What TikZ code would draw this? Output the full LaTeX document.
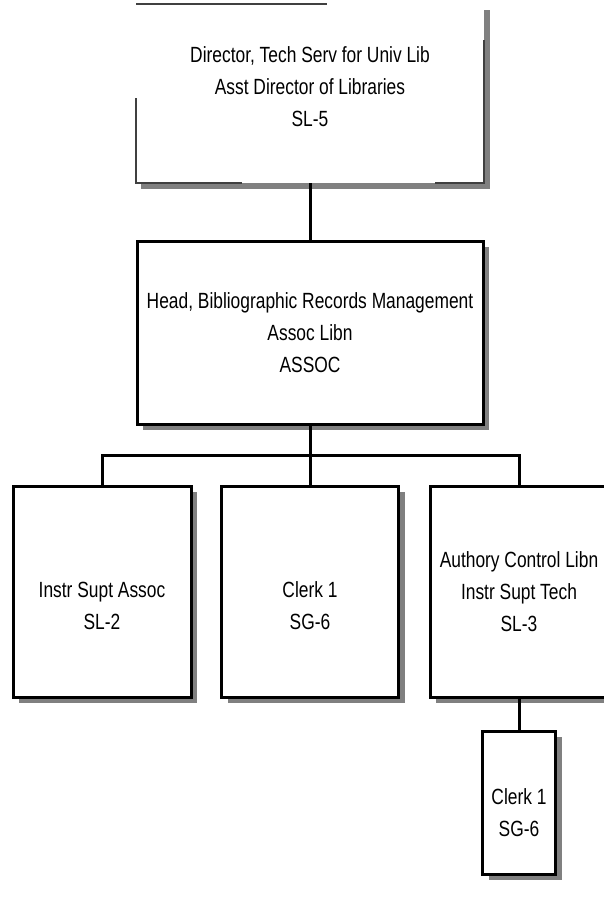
\documentclass[tikz,border=0pt]{standalone}
\usepackage{fontspec}
\setmainfont[FakeStretch=0.79]{Liberation Sans}
\usetikzlibrary{shadows}
\tikzset{
  orgbox/.style={draw=black, line width=3pt, fill=white, align=center, inner sep=0pt,
    font=\fontsize{22}{32}\selectfont,
    drop shadow={shadow xshift=6pt, shadow yshift=-6pt, fill=black!50, opacity=1}},
  conn/.style={line width=3pt, draw=black},
  topline/.style={line width=1.3pt, draw=black!75},
  topshadow/.style={fill=black!50},
  plaintext/.style={align=center, inner sep=0pt, font=\fontsize{22}{32}\selectfont}
}
\begin{document}
\begin{tikzpicture}[x=1pt,y=-1pt]
\useasboundingbox (0,0) rectangle (604,898);
% top box (partially rendered)
\node[minimum width=348pt, minimum height=179pt, inner sep=0pt] (topbox) at (310,93.5) {};
\fill[topshadow] (484,10) rectangle (490,189);
\fill[topshadow] (141,183) rectangle (490,189);
\draw[topline] (136,4) -- (327,4);
\draw[topline] (136,98) -- (136,183) -- (242,183);
\draw[topline] (435,183) -- (484,183) -- (484,40);
\node[plaintext] (toptext) at (310,86.5) {Director, Tech Serv for Univ Lib\\Asst Director of Libraries\\SL-5};
% middle box
\node[orgbox, minimum width=346pt, minimum height=183pt] (mid) at (310,332.5)
  {Head, Bibliographic Records Management\\Assoc Libn\\ASSOC};
% row boxes
\node[orgbox, minimum width=178pt, minimum height=211pt] (b1) at (102,591.5)
  {\strut\\Instr Supt Assoc\\SL-2\strut};
\node[orgbox, minimum width=177pt, minimum height=211pt] (b2) at (310,591.5)
  {\strut\\Clerk 1\\SG-6\strut};
\node[orgbox, minimum width=178pt, minimum height=211pt] (b3) at (519,591.5)
  {Authory Control Libn\\Instr Supt Tech\\SL-3};
% bottom box
\node[orgbox, minimum width=73pt, minimum height=143pt] (b4) at (519,802.5)
  {\mbox{}\\[4pt]Clerk 1\\SG-6};
% connectors
\coordinate (bus) at (310,455);
\draw[conn] (topbox.south) -- (mid.north);
\draw[conn] (mid.south) -- (b2.north);
\draw[conn] (b1.north) -- (b1.north |- bus) -- (b3.north |- bus) -- (b3.north);
\draw[conn] (b3.south) -- (b4.north);
\end{tikzpicture}
\end{document}
